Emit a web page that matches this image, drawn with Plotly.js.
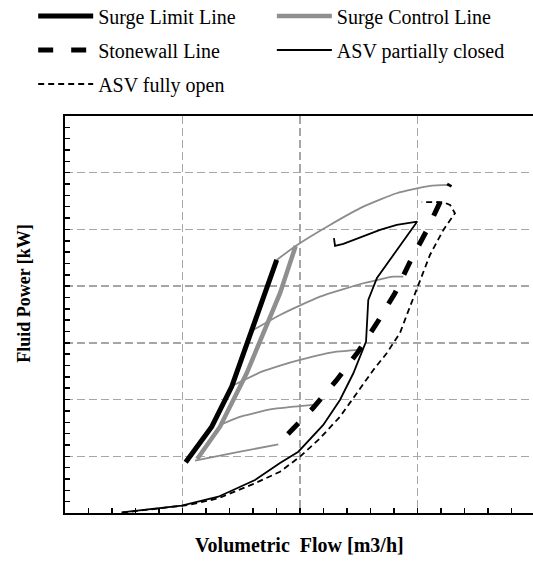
<!DOCTYPE html>
<html>
<head>
<meta charset="utf-8">
<script src="https://cdn.plot.ly/plotly-3.0.1.min.js"></script>
<style>html,body{margin:0;padding:0;background:#fff;}#chart{width:533px;height:568px;}</style>
</head>
<body>
<div id="chart"></div>
<script>
// Surge limit line
const surgeLimitX = [1.027, 1.249, 1.419, 1.560, 1.645, 1.802];
const surgeLimitY = [0.894, 1.522, 2.228, 3.051, 3.580, 4.462];
// Surge control line
const surgeCtrlX = [1.125, 1.319, 1.546, 1.660, 1.830, 1.963];
const surgeCtrlY = [0.952, 1.522, 2.464, 3.051, 3.875, 4.709];
// Stonewall line
const stonewallX = [1.898, 2.111, 2.306, 2.494, 2.655, 2.809, 2.936, 3.081, 3.209, 3.277];
const stonewallY = [1.393, 1.852, 2.328, 2.840, 3.351, 3.880, 4.427, 4.991, 5.556, 5.802];
// ASV partially closed
const asvPartX = [0.483, 0.993, 1.305, 1.617, 1.830, 1.986, 2.198, 2.340, 2.454, 2.525, 2.562, 2.581, 2.655, 2.998, 2.823, 2.681, 2.539, 2.369, 2.298, 2.289];
const asvPartY = [0.012, 0.129, 0.287, 0.582, 0.882, 1.081, 1.552, 1.993, 2.464, 2.817, 3.021, 3.757, 4.145, 5.138, 5.079, 4.991, 4.873, 4.744, 4.709, 4.845];
// ASV fully open
const asvOpenX = [0.483, 1.049, 1.305, 1.617, 1.830, 2.000, 2.170, 2.340, 2.483, 2.624, 2.738, 2.851, 2.936, 3.021, 3.106, 3.220, 3.319, 3.277, 3.220, 3.036];
const asvOpenY = [0.005, 0.141, 0.259, 0.524, 0.728, 0.993, 1.317, 1.698, 2.111, 2.522, 2.817, 3.175, 3.638, 4.109, 4.550, 4.991, 5.286, 5.432, 5.480, 5.480];
// Speed curves (grey)
const speed1X = [1.106, 1.447, 1.815];
const speed1Y = [0.922, 1.063, 1.212];
const speed2X = [1.319, 1.475, 1.759, 2.113];
const speed2Y = [1.552, 1.688, 1.830, 1.905];
const speed3X = [1.438, 1.674, 1.830, 2.000, 2.298, 2.511];
const speed3Y = [2.257, 2.492, 2.600, 2.700, 2.840, 2.875];
const speed4X = [1.603, 1.830, 2.170, 2.539, 2.794, 2.879];
const speed4Y = [3.228, 3.492, 3.815, 4.051, 4.167, 4.167];
const speed5X = [1.802, 1.963, 2.255, 2.539, 2.823, 3.106, 3.262];
const speed5Y = [4.462, 4.709, 5.079, 5.402, 5.638, 5.767, 5.785];

const names = ['Surge Limit Line', 'Surge Control Line', 'Stonewall Line', 'ASV partially closed', 'ASV fully open'];

const grey = '#8c8c8c';
const speedSets = [[speed1X, speed1Y], [speed2X, speed2Y], [speed3X, speed3Y], [speed4X, speed4Y], [speed5X, speed5Y]];
const traces = speedSets.map(s => ({
  x: s[0], y: s[1], mode: 'lines', type: 'scatter', showlegend: false, hoverinfo: 'skip',
  line: {color: grey, width: 1.8, shape: 'spline', smoothing: 0.5}
}));

traces.push({x: asvOpenX, y: asvOpenY, name: names[4], mode: 'lines', legend: 'legend5',
  line: {color: '#000', width: 1.8, dash: '6px,4px'}});
traces.push({x: asvPartX, y: asvPartY, name: names[3], mode: 'lines', legend: 'legend4',
  line: {color: '#000', width: 1.8}});
traces.push({x: stonewallX, y: stonewallY, name: names[2], mode: 'lines', legend: 'legend3',
  line: {color: '#000', width: 5, dash: '15px,18px'}});
traces.push({x: surgeCtrlX, y: surgeCtrlY, name: names[1], mode: 'lines', legend: 'legend2',
  line: {color: '#8f8f8f', width: 4.5}});
traces.push({x: surgeLimitX, y: surgeLimitY, name: names[0], mode: 'lines', legend: 'legend',
  line: {color: '#000', width: 5}});

const serif = 'Liberation Serif';
const legFont = {family: serif, size: 20, color: '#000'};
function leg(x, y) {
  return {x: x, y: y, xanchor: 'left', yanchor: 'middle', font: legFont, bgcolor: 'rgba(0,0,0,0)',
    borderwidth: 0, itemwidth: 55, traceorder: 'normal'};
}
const col1 = -0.068, col2 = 0.442;
const row1 = 1.2519, row2 = 1.1662, row3 = 1.0806;

const axisCommon = {
  showline: true, linecolor: '#000', linewidth: 2, mirror: true,
  showticklabels: false, zeroline: false,
  ticks: 'inside', ticklen: 5, tickwidth: 1.5, tickcolor: '#000',
  showgrid: true, gridcolor: '#a6a6a6', gridwidth: 1.5, griddash: '8px,4px',
  fixedrange: true
};

const layout = {
  width: 533, height: 568,
  margin: {l: 65, r: 0, t: 116, b: 55, pad: 0, autoexpand: false},
  paper_bgcolor: '#fff', plot_bgcolor: '#fff',
  showlegend: true,
  xaxis: Object.assign({}, axisCommon, {range: [0, 3.983], dtick: 1, tick0: 0,
    minor: {dtick: 0.2, ticks: 'inside', ticklen: 5, tickwidth: 1.5, tickcolor: '#000', showgrid: false}}),
  yaxis: Object.assign({}, axisCommon, {range: [0, 7], dtick: 1, tick0: 0, mirror: false,
    minor: {dtick: 0.2, ticks: 'inside', ticklen: 5, tickwidth: 1.5, tickcolor: '#000', showgrid: false}}),
  legend: leg(col1, row1),
  legend2: leg(col2, row1),
  legend3: leg(col1, row2),
  legend4: leg(col2, row2),
  legend5: leg(col1, row3),
  annotations: [
    {text: '<b>Volumetric  Flow [m3/h]</b>', xref: 'paper', yref: 'paper', x: 0.5015, y: -0.0806,
      xanchor: 'center', yanchor: 'middle', showarrow: false,
      font: {family: serif, size: 20, color: '#000'}},
    {text: '<b>Fluid Power [kW]</b>', xref: 'paper', yref: 'paper', x: -0.0876, y: 0.552,
      xanchor: 'center', yanchor: 'middle', showarrow: false, textangle: -90,
      font: {family: serif, size: 18, color: '#000'}}
  ]
};

Plotly.newPlot('chart', traces, layout, {displayModeBar: false, staticPlot: true});
</script>
</body>
</html>
